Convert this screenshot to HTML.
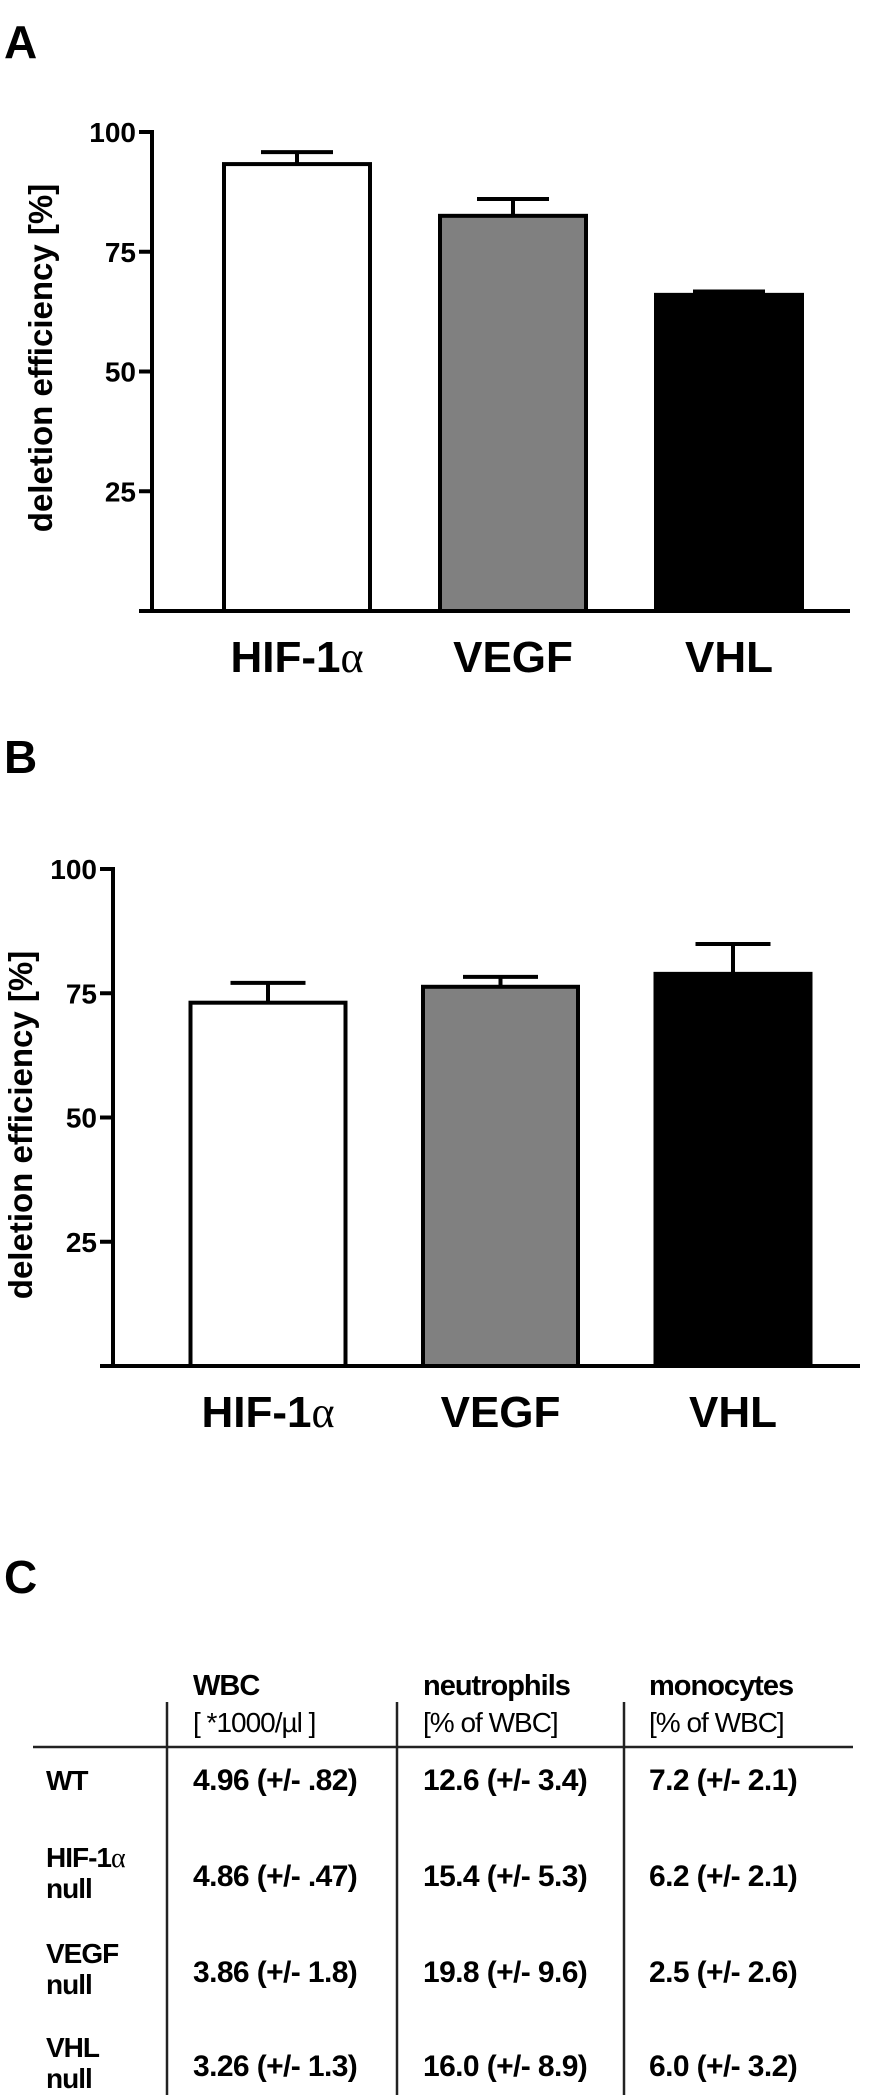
<!DOCTYPE html>
<html><head><meta charset="utf-8"><style>
html,body{margin:0;padding:0;background:#fff;}
svg{display:block;font-family:"Liberation Sans",Arial,sans-serif;}
</style></head><body>
<svg id="fig" width="891" height="2100" viewBox="0 0 891 2100">
  <text x="4" y="58" font-size="46" font-weight="bold">A</text>
  <g id="chartA"></g>
  <text x="4" y="773" font-size="46" font-weight="bold">B</text>
  <g id="chartB"></g>
  <text x="4" y="1593" font-size="46" font-weight="bold">C</text>
  <g id="table"></g>
</svg>
<script>
const categories = ["HIF-1", "VEGF", "VHL"];
const fills = ["#ffffff", "#808080", "#000000"];
const ticks = [25, 50, 75, 100];
const valuesA = [93.3, 82.5, 66];
const errorsA = [2.5, 3.5, 0.7];
const valuesB = [73.1, 76.3, 78.9];
const errorsB = [4, 2, 6];

const rowLabels = [["WT"], ["HIF-1", "null"], ["VEGF", "null"], ["VHL", "null"]];
const colHeaders = ["WBC", "neutrophils", "monocytes"];
const colSubs = ["[ *1000/\u00b5l ]", "[% of WBC]", "[% of WBC]"];
const cells = [
  ["4.96 (+/- .82)", "12.6 (+/- 3.4)", "7.2 (+/- 2.1)"],
  ["4.86 (+/- .47)", "15.4 (+/- 5.3)", "6.2 (+/- 2.1)"],
  ["3.86 (+/- 1.8)", "19.8 (+/- 9.6)", "2.5 (+/- 2.6)"],
  ["3.26 (+/- 1.3)", "16.0 (+/- 8.9)", "6.0 (+/- 3.2)"]
];

const NS = "http://www.w3.org/2000/svg";
function mk(parent, tag, attrs) {
  const e = document.createElementNS(NS, tag);
  for (const k in attrs) e.setAttribute(k, attrs[k]);
  parent.appendChild(e);
  return e;
}

function drawChart(g, cfg, values, errors, prefix) {
  const y = v => cfg.y0 - (v / 100) * (cfg.y0 - cfg.y100);
  // bars
  values.forEach((v, i) => {
    const cx = cfg.x0 + i * cfg.step;
    const top = y(v), etop = y(v + errors[i]);
    const eb = mk(g, "line", {x1: cx, x2: cx, y1: top, y2: etop, stroke: "#000", "stroke-width": 4});
    
    
    const cap = mk(g, "line", {x1: cx - cfg.cap / 2, x2: cx + cfg.cap / 2, y1: etop, y2: etop, stroke: "#000", "stroke-width": 4});
    
    
    const r = mk(g, "rect", {x: cx - cfg.bw / 2, y: top, width: cfg.bw, height: cfg.y0 - top, fill: fills[i], stroke: "#000", "stroke-width": 4});
    
    
    const t = mk(g, "text", {x: cx, y: cfg.y0 + 61, "text-anchor": "middle", "font-size": 44, "font-weight": "bold"});
    t.textContent = categories[i];
    if (i === 0) {
      const a = mk(t, "tspan", {"font-family": "'Liberation Serif',serif", "font-weight": "normal"});
      a.textContent = "\u03b1";
    }
    
    
  });
  // axes
  const ya = mk(g, "line", {x1: cfg.ax, x2: cfg.ax, y1: cfg.y100 - 2, y2: cfg.y0, stroke: "#000", "stroke-width": 4});
  
  
  const xa = mk(g, "line", {x1: cfg.xs, x2: cfg.xe, y1: cfg.y0, y2: cfg.y0, stroke: "#000", "stroke-width": 4});
  
  
  ticks.forEach(tv => {
    const ty = y(tv);
    const tk = mk(g, "line", {x1: cfg.ax - 13, x2: cfg.ax, y1: ty, y2: ty, stroke: "#000", "stroke-width": 4});
    
    
    const tl = mk(g, "text", {x: cfg.ax - 16, y: ty + 10, "text-anchor": "end", "font-size": 28, "font-weight": "bold"});
    tl.textContent = tv;
    
    
  });
  const tt = mk(g, "text", {x: 0, y: 0, "text-anchor": "middle", "font-size": 33, "font-weight": "bold",
    transform: "translate(" + cfg.tx + "," + cfg.ty + ") rotate(-90)"});
  tt.textContent = "deletion efficiency [%]";
  
  
}

drawChart(document.getElementById("chartA"),
  {ax: 152, y0: 611, y100: 132, x0: 297, step: 216, bw: 146, cap: 72, xs: 139, xe: 850, tx: 52, ty: 358},
  valuesA, errorsA, "chart-a");
drawChart(document.getElementById("chartB"),
  {ax: 113, y0: 1366, y100: 869, x0: 268, step: 232.5, bw: 155, cap: 75, xs: 100, xe: 860, tx: 32, ty: 1125},
  valuesB, errorsB, "chart-b");

// table
const tg = document.getElementById("table");
const colX = [193, 423, 649];
const vLines = [167, 397, 624];
const rowBase = [1790, 1886, 1982, 2076];
const hl = mk(tg, "line", {x1: 33, x2: 853, y1: 1747, y2: 1747, stroke: "#222", "stroke-width": 2.5});


vLines.forEach((vx, i) => {
  const l = mk(tg, "line", {x1: vx, x2: vx, y1: 1702, y2: 2095, stroke: "#222", "stroke-width": 2.5});
  
  
});
colHeaders.forEach((h, i) => {
  const t = mk(tg, "text", {x: colX[i], y: 1695, "font-size": 29, "font-weight": "bold", "letter-spacing": "-1"});
  t.textContent = h;
  
  
  const s = mk(tg, "text", {x: colX[i], y: 1732, "font-size": 28, "letter-spacing": "-1"});
  s.textContent = colSubs[i];
  
  
});
rowLabels.forEach((lab, r) => {
  const base = rowBase[r];
  lab.forEach((line, k) => {
    const ly = lab.length === 1 ? base : base - 19 + k * 31;
    const t = mk(tg, "text", {x: 46, y: ly, "font-size": 28, "font-weight": "bold", "letter-spacing": "-1"});
    t.textContent = line;
    if (line === "HIF-1") {
      const a = mk(t, "tspan", {"font-family": "'Liberation Serif',serif", "font-weight": "normal"});
      a.textContent = "\u03b1";
    }
    
    
  });
  cells[r].forEach((c, i) => {
    const t = mk(tg, "text", {x: colX[i], y: base, "font-size": 30, "font-weight": "bold", "letter-spacing": "-0.6"});
    t.textContent = c;
    
    
  });
});
</script>
</body></html>
